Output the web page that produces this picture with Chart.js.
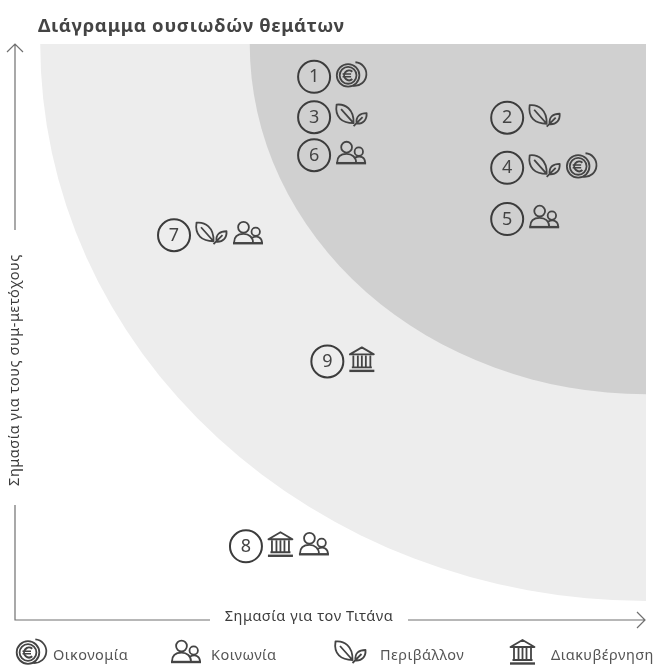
<!DOCTYPE html>
<html>
<head>
<meta charset="utf-8">
<script src="https://cdn.jsdelivr.net/npm/chart.js@4"></script>
<style>
  html, body { margin: 0; padding: 0; background: #fff; }
  canvas { display: block; }
</style>
</head>
<body>
<canvas id="myChart" width="659" height="665"></canvas>
<script>
const issueNumbers = ['1', '2', '3', '4', '5', '6', '7', '8', '9'];
const xValues = [47.4, 78, 47.4, 78, 78, 47.4, 25.2, 36.6, 49.5];
const yValues = [94.3, 87.2, 87.3, 78.5, 69.6, 80.7, 66.8, 12.8, 44.9];
const issueThemes = [['coin'], ['leaf'], ['leaf'], ['leaf', 'coin'], ['people'], ['people'], ['leaf', 'people'], ['temple', 'people'], ['temple']];

// quarter bands around the top right corner, radius in axis units
const bandRadiusX = [96, 62.8];
const bandRadiusY = [96.7, 60.8];
const bandColors = ['#ededed', '#d0d0d0'];

const chartTitle = 'Διάγραμμα ουσιωδών θεμάτων';
const xAxisLabel = 'Σημασία για τον Τιτάνα';
const yAxisLabel = 'Σημασία για τους συμ-μετόχους';
const legendThemes = ['coin', 'people', 'leaf', 'temple'];
const legendLabels = ['Οικονομία', 'Κοινωνία', 'Περιβάλλον', 'Διακυβέρνηση'];

const inkColor = '#444444';
const iconWidths = { coin: 30, leaf: 31, people: 30, temple: 25 };

const drawIcon = {
    coin(ctx) {
        ctx.beginPath(); ctx.arc(12, 0.5, 11.3, 0, Math.PI * 2); ctx.stroke();
        ctx.beginPath(); ctx.arc(12, 0.5, 8.4, 0, Math.PI * 2); ctx.stroke();
        ctx.beginPath(); ctx.arc(18.5, -0.8, 11.8, -1.5, 1.7); ctx.stroke();
        ctx.save();
        ctx.lineWidth = 2;
        ctx.beginPath(); ctx.arc(13, 0.5, 4.9, -0.85, 0.85, true); ctx.stroke();
        ctx.lineWidth = 1.5;
        ctx.beginPath();
        ctx.moveTo(6.5, -0.8); ctx.lineTo(15, -0.8);
        ctx.moveTo(6.5, 1.8); ctx.lineTo(15, 1.8);
        ctx.stroke();
        ctx.restore();
    },
    leaf(ctx) {
        ctx.beginPath();
        ctx.moveTo(0.5, -10.5);
        ctx.bezierCurveTo(9, -11.5, 18, -6, 17.5, 8);
        ctx.bezierCurveTo(6, 8, -1.5, 2, 0.5, -10.5);
        ctx.closePath();
        ctx.moveTo(5, -6);
        ctx.lineTo(17.5, 8);
        ctx.stroke();
        ctx.beginPath();
        ctx.moveTo(30.5, -2);
        ctx.bezierCurveTo(24, -2, 19.5, 1, 20.5, 8.5);
        ctx.bezierCurveTo(27, 9, 31, 4.5, 30.5, -2);
        ctx.closePath();
        ctx.moveTo(17.5, 11);
        ctx.lineTo(26.5, 2);
        ctx.stroke();
    },
    people(ctx) {
        ctx.beginPath(); ctx.arc(10.5, -6, 5.4, 0, Math.PI * 2); ctx.stroke();
        ctx.beginPath(); ctx.arc(22.7, -1.5, 4.2, 0, Math.PI * 2); ctx.stroke();
        ctx.beginPath();
        ctx.moveTo(1, 9.5);
        ctx.bezierCurveTo(1, 3, 5, 0.7, 10.5, 0.7);
        ctx.bezierCurveTo(16, 0.7, 20, 4, 20, 9.5);
        ctx.moveTo(19, 4.5);
        ctx.bezierCurveTo(25, 1.5, 29, 5, 29, 9.5);
        ctx.stroke();
        ctx.save();
        ctx.lineWidth = 2.4;
        ctx.beginPath(); ctx.moveTo(0, 10); ctx.lineTo(30, 10); ctx.stroke();
        ctx.restore();
    },
    temple(ctx) {
        ctx.beginPath();
        ctx.moveTo(0.5, -5); ctx.lineTo(12.5, -12); ctx.lineTo(24.5, -5);
        ctx.closePath();
        ctx.stroke();
        ctx.beginPath();
        [4, 8.5, 12.5, 16.5, 21].forEach(cx => {
            ctx.moveTo(cx, -4); ctx.lineTo(cx, 7);
        });
        ctx.moveTo(2.5, 8); ctx.lineTo(22.5, 8);
        ctx.stroke();
        ctx.save();
        ctx.lineWidth = 2.4;
        ctx.beginPath(); ctx.moveTo(0, 11.5); ctx.lineTo(25, 11.5); ctx.stroke();
        ctx.restore();
    }
};

function placeIcon(ctx, kind, left, middle) {
    ctx.save();
    ctx.translate(left, middle);
    ctx.strokeStyle = inkColor;
    ctx.lineWidth = 1.8;
    ctx.lineJoin = 'round';
    drawIcon[kind](ctx);
    ctx.restore();
}

const bandsPlugin = {
    id: 'bands',
    beforeDatasetsDraw(chart) {
        const { ctx, chartArea, scales: { x, y } } = chart;
        ctx.save();
        ctx.beginPath();
        ctx.rect(chartArea.left, chartArea.top, chartArea.right - chartArea.left, chartArea.bottom - chartArea.top);
        ctx.clip();
        bandColors.forEach((color, i) => {
            const cx = x.getPixelForValue(100);
            const cy = y.getPixelForValue(100);
            const rx = cx - x.getPixelForValue(100 - bandRadiusX[i]);
            const ry = y.getPixelForValue(100 - bandRadiusY[i]) - cy;
            ctx.fillStyle = color;
            ctx.beginPath();
            ctx.ellipse(cx, cy, rx, ry, 0, 0, Math.PI * 2);
            ctx.fill();
        });
        ctx.restore();
    }
};

const labelsPlugin = {
    id: 'issueLabels',
    afterDatasetsDraw(chart) {
        const { ctx } = chart;
        const meta = chart.getDatasetMeta(0);
        ctx.save();
        meta.data.forEach((point, i) => {
            ctx.fillStyle = inkColor;
            ctx.font = '18px "Noto Sans"';
            ctx.textAlign = 'center';
            ctx.textBaseline = 'middle';
            ctx.fillText(issueNumbers[i], point.x, point.y + 0.5);
            let left = point.x + 22;
            issueThemes[i].forEach(kind => {
                placeIcon(ctx, kind, left, point.y - 2);
                left += iconWidths[kind] + 6;
            });
        });
        ctx.restore();
    }
};

const framePlugin = {
    id: 'frame',
    afterDraw(chart) {
        const { ctx, chartArea: { left, top, right, bottom } } = chart;
        ctx.save();
        ctx.fillStyle = inkColor;
        ctx.font = 'bold 18.5px "Noto Sans"';
        ctx.letterSpacing = '0.7px';
        ctx.textBaseline = 'alphabetic';
        ctx.textAlign = 'left';
        ctx.fillText(chartTitle, 38, 32);

        // axes stop around their labels
        ctx.strokeStyle = '#707070';
        ctx.lineWidth = 1.2;
        ctx.beginPath();
        ctx.moveTo(left, top);
        ctx.lineTo(left, 230);
        ctx.moveTo(left, 505);
        ctx.lineTo(left, bottom);
        ctx.lineTo(210, bottom);
        ctx.moveTo(408, bottom);
        ctx.lineTo(right - 1, bottom);
        ctx.moveTo(left - 8, top + 8);
        ctx.lineTo(left, top);
        ctx.lineTo(left + 8, top + 8);
        ctx.moveTo(right - 9, bottom - 8);
        ctx.lineTo(right - 1, bottom);
        ctx.lineTo(right - 9, bottom + 8);
        ctx.stroke();

        ctx.fillStyle = '#3c3c3c';
        ctx.font = '14.5px "Noto Sans"';
        ctx.letterSpacing = '0.55px';
        ctx.textAlign = 'center';
        ctx.textBaseline = 'middle';
        ctx.fillText(xAxisLabel, 309, bottom - 3);
        ctx.save();
        ctx.translate(left, 370);
        ctx.rotate(-Math.PI / 2);
        ctx.fillText(yAxisLabel, 0, 0);
        ctx.restore();

        // legend row
        const iconLeft = [16, 171, 335, 510];
        const textLeft = [53, 211, 380, 551];
        ctx.letterSpacing = '0.45px';
        legendThemes.forEach((kind, i) => {
            placeIcon(ctx, kind, iconLeft[i], 652);
            ctx.fillStyle = '#555555';
            ctx.textAlign = 'left';
            ctx.textBaseline = 'alphabetic';
            ctx.fillText(legendLabels[i], textLeft[i], 660);
        });
        ctx.restore();
    }
};

new Chart(document.getElementById('myChart'), {
    type: 'scatter',
    data: {
        labels: issueNumbers,
        datasets: [{
            data: xValues.map((v, i) => ({ x: v, y: yValues[i] })),
            pointRadius: 16,
            pointHoverRadius: 16,
            pointBorderWidth: 2,
            pointBorderColor: '#3c3c3c',
            pointBackgroundColor: 'rgba(0,0,0,0)'
        }]
    },
    options: {
        responsive: false,
        animation: false,
        layout: { autoPadding: false, padding: { left: 15, top: 44, right: 13, bottom: 45 } },
        plugins: { legend: { display: false }, title: { display: false }, tooltip: { enabled: false } },
        scales: {
            x: { type: 'linear', min: 0, max: 100, display: false },
            y: { type: 'linear', min: 0, max: 100, display: false }
        }
    },
    plugins: [bandsPlugin, labelsPlugin, framePlugin]
});
</script>
</body>
</html>
